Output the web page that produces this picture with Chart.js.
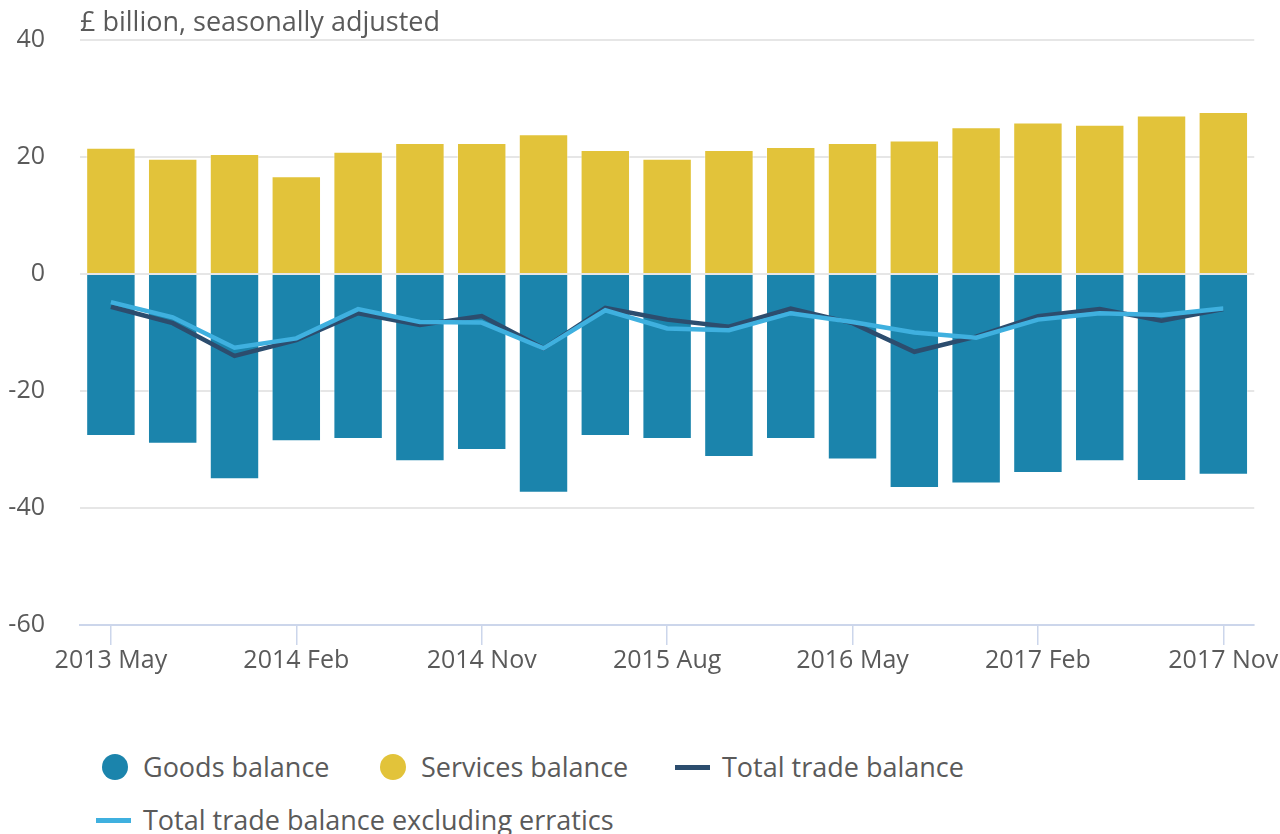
<!DOCTYPE html>
<html>
<head>
<meta charset="utf-8">
<script src="https://cdn.jsdelivr.net/npm/chart.js@4/dist/chart.umd.min.js"></script>
<style>
  body { margin: 0; background: #fff; font-family: "Open Sans", sans-serif; color: #5a5a5a; }
  .wrap { position: relative; width: 1280px; height: 834px; overflow: hidden; }
  #tradeChart { position: absolute; left: 0; top: 0; }
  .unit { position: absolute; left: 80px; top: 3px; font-size: 27px; line-height: 36px; }
  .leg { position: absolute; font-size: 27px; line-height: 36px; white-space: nowrap; }
  .dot { position: absolute; width: 26px; height: 26px; border-radius: 50%; }
  .bar { position: absolute; width: 35px; height: 5px; }
</style>
</head>
<body>
<div class="wrap">
  <canvas id="tradeChart" width="1280" height="700"></canvas>
  <div class="unit">£ billion, seasonally adjusted</div>

  <div class="dot" style="left:102px;top:754px;background:#1b84ac"></div>
  <div class="leg" style="left:143px;top:749px">Goods balance</div>
  <div class="dot" style="left:380px;top:754px;background:#e2c33a"></div>
  <div class="leg" style="left:421px;top:749px">Services balance</div>
  <div class="bar" style="left:675px;top:765px;background:#2c4d6e"></div>
  <div class="leg" style="left:722px;top:749px">Total trade balance</div>
  <div class="bar" style="left:96px;top:818px;background:#3fb0df"></div>
  <div class="leg" style="left:143px;top:802px">Total trade balance excluding erratics</div>
</div>
<script>
// quarterly periods
const quarters = [
    '2013 May', '2013 Aug', '2013 Nov',
    '2014 Feb', '2014 May', '2014 Aug', '2014 Nov',
    '2015 Feb', '2015 May', '2015 Aug', '2015 Nov',
    '2016 Feb', '2016 May', '2016 Aug', '2016 Nov',
    '2017 Feb', '2017 May', '2017 Aug', '2017 Nov'
];

// £ billion
const goodsBalance = [-27.7, -29.0, -35.1, -28.6, -28.2, -32.0, -30.1, -37.4, -27.7, -28.2,
    -31.3, -28.2, -31.7, -36.6, -35.8, -34.0, -32.0, -35.4, -34.3];
const servicesBalance = [21.6, 19.7, 20.5, 16.7, 20.9, 22.4, 22.4, 23.9, 21.2, 19.7,
    21.2, 21.7, 22.4, 22.8, 25.1, 25.9, 25.5, 27.1, 27.7];
const totalBalance = [-5.6, -8.4, -14.0, -11.3, -6.7, -8.7, -7.2, -12.7, -5.8, -7.8,
    -9.0, -5.9, -8.4, -13.3, -10.7, -7.2, -6.0, -8.0, -6.0];
const totalExErratics = [-4.8, -7.4, -12.6, -11.0, -6.0, -8.2, -8.3, -12.7, -6.2, -9.3,
    -9.6, -6.7, -8.2, -10.0, -10.9, -7.8, -6.7, -7.0, -5.9];

const yTicks = [40, 20, 0, -20, -40, -60];

document.addEventListener('DOMContentLoaded', function() {
    const ctx = document.getElementById('tradeChart').getContext('2d');
    const textColor = '#5a5a5a';

    new Chart(ctx, {
        type: 'bar',
        data: {
            labels: quarters,
            datasets: [
                {
                    type: 'line',
                    label: 'Total trade balance excluding erratics',
                    data: totalExErratics,
                    borderColor: '#3fb0df',
                    borderWidth: 4.5,
                    pointRadius: 0,
                    tension: 0,
                    stack: 'ex',
                    order: 0
                },
                {
                    type: 'line',
                    label: 'Total trade balance',
                    data: totalBalance,
                    borderColor: '#2c4d6e',
                    borderWidth: 4.5,
                    pointRadius: 0,
                    tension: 0,
                    stack: 'total',
                    order: 1
                },
                {
                    label: 'Goods balance',
                    data: goodsBalance,
                    backgroundColor: '#1b84ac',
                    borderColor: 'rgba(255,255,255,0.45)',
                    borderWidth: 1,
                    stack: 'bars',
                    order: 3
                },
                {
                    label: 'Services balance',
                    data: servicesBalance,
                    backgroundColor: '#e2c33a',
                    borderColor: 'rgba(255,255,255,0.45)',
                    borderWidth: 1,
                    stack: 'bars',
                    order: 2
                }
            ]
        },
        options: {
            responsive: false,
            animation: false,
            barPercentage: 0.8,
            categoryPercentage: 1,
            layout: { autoPadding: false, padding: { top: 40, right: 25, left: 0, bottom: 23 } },
            plugins: {
                legend: { display: false },
                tooltip: { enabled: false }
            },
            scales: {
                x: {
                    stacked: true,
                    grid: {
                        offset: false,
                        drawOnChartArea: false,
                        tickLength: 20,
                        lineWidth: 1.5,
                        color: (c) => c.index % 3 === 0 ? '#ccd6eb' : 'rgba(0,0,0,0)'
                    },
                    border: { color: '#ccd6eb', width: 2 },
                    ticks: {
                        autoSkip: false,
                        maxRotation: 0,
                        padding: 1,
                        color: textColor,
                        font: { family: 'Open Sans', size: 25 },
                        callback: function(value, index) {
                            return index % 3 === 0 ? quarters[index] : '';
                        }
                    }
                },
                y: {
                    stacked: true,
                    min: -60,
                    max: 40,
                    afterBuildTicks: (axis) => {
                        axis.ticks = yTicks.map(v => ({ value: v }));
                    },
                    afterFit: (axis) => {
                        axis.width = 80;
                        axis.paddingTop = 0;
                        axis.paddingBottom = 0;
                    },
                    grid: { color: '#e6e6e6', lineWidth: 2, drawTicks: false },
                    border: { display: false },
                    ticks: {
                        padding: 35,
                        color: textColor,
                        font: { family: 'Open Sans', size: 25 }
                    }
                }
            }
        }
    });
});
</script>
</body>
</html>
